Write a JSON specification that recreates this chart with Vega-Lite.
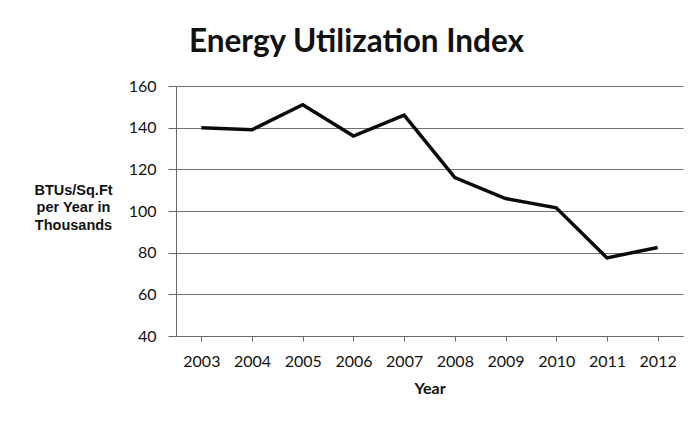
{
  "$schema": "https://vega.github.io/schema/vega-lite/v6.json",
  "width": 507,
  "height": 250,
  "autosize": {"type": "none"},
  "padding": {"left": 176, "top": 86, "right": 13, "bottom": 86},
  "background": "white",
  "title": {
    "text": "Energy Utilization Index",
    "font": "Lato",
    "fontSize": 31.5,
    "fontWeight": "bold",
    "color": "#111111",
    "anchor": "middle",
    "frame": "group",
    "dx": -73,
    "baseline": "alphabetic",
    "offset": -5
  },
  "data": {
    "values": [
      {"Year": "2003", "EUI": 140},
      {"Year": "2004", "EUI": 139},
      {"Year": "2005", "EUI": 151},
      {"Year": "2006", "EUI": 136},
      {"Year": "2007", "EUI": 146},
      {"Year": "2008", "EUI": 116},
      {"Year": "2009", "EUI": 106},
      {"Year": "2010", "EUI": 101.5},
      {"Year": "2011", "EUI": 77.5},
      {"Year": "2012", "EUI": 82.5}
    ]
  },
  "mark": {"type": "line", "color": "#0a0a0a", "strokeWidth": 3.5, "strokeJoin": "miter"},
  "encoding": {
    "x": {
      "field": "Year",
      "type": "ordinal",
      "scale": {"type": "point", "padding": 0.5},
      "axis": {
        "title": "Year",
        "titleFont": "Lato",
        "titleFontSize": 16,
        "titleFontWeight": "bold",
        "titleColor": "#111111",
        "titleBaseline": "middle",
        "titleY": 52,
        "labelAngle": 0,
        "labelFont": "Lato",
        "labelFontSize": 16,
        "labelColor": "#111111",
        "labelPadding": 12,
        "tickSize": 5,
        "tickColor": "#666666",
        "domainColor": "#666666",
        "tickBand": "extent",
        "grid": false
      }
    },
    "y": {
      "field": "EUI",
      "type": "quantitative",
      "scale": {"domain": [40, 160]},
      "axis": {
        "values": [40, 60, 80, 100, 120, 140, 160],
        "title": ["BTUs/Sq.Ft", "per Year in", "Thousands"],
        "titleAngle": 0,
        "titleFont": "Liberation Sans",
        "titleFontSize": 14.5,
        "titleFontWeight": "bold",
        "titleColor": "#111111",
        "titleAlign": "center",
        "titleBaseline": "middle",
        "titleLineHeight": 17.5,
        "titleX": -103,
        "titleY": 104,
        "labelFont": "Lato",
        "labelFontSize": 16,
        "labelColor": "#111111",
        "labelPadding": 12,
        "tickSize": 8,
        "tickColor": "#666666",
        "domainColor": "#666666",
        "grid": true,
        "gridColor": "#707070",
        "gridWidth": 1.2
      }
    }
  },
  "config": {"view": {"stroke": null}}
}
